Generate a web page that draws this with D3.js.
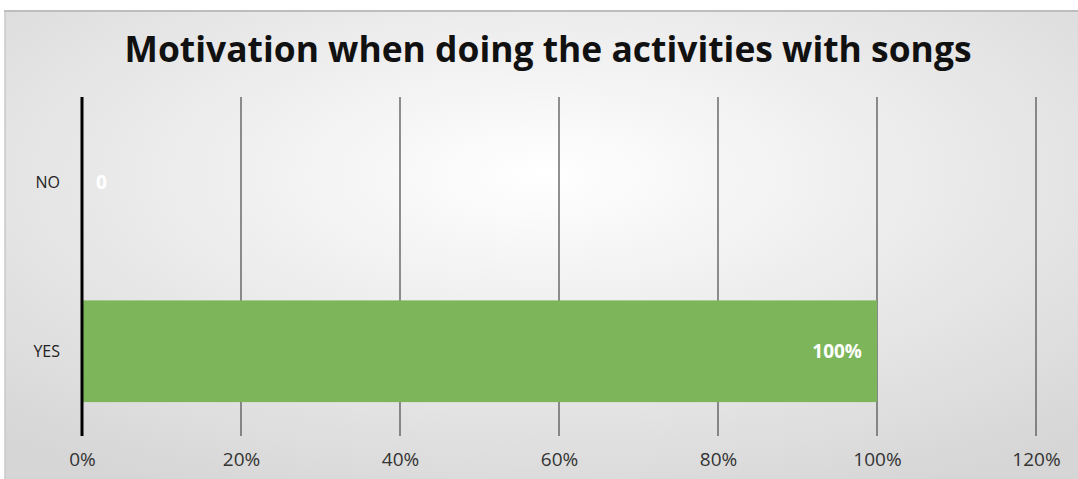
<!DOCTYPE html>
<html>
<head>
<meta charset="utf-8">
<script src="https://cdn.jsdelivr.net/npm/d3@7/dist/d3.min.js"></script>
<style>
  html, body { margin: 0; padding: 0; background: #ffffff; }
  svg { display: block; }
</style>
</head>
<body>
<svg id="chart" width="1078" height="479"></svg>
<script>
// Survey answers and their shares
const categories = ["NO", "YES"];
const values = [0, 1.0];
const valueLabels = ["0", "100%"];
const tickValues = [0, 0.2, 0.4, 0.6, 0.8, 1.0, 1.2];
const tickLabels = ["0%", "20%", "40%", "60%", "80%", "100%", "120%"];
const titleText = "Motivation when doing the activities with songs";

const W = 1078, H = 479;
const svg = d3.select("#chart");
const fontFamily = "'Open Sans', 'DejaVu Sans', sans-serif";

// Chart-area background: soft radial gradient, white centre to light grey edges
const defs = svg.append("defs");
const grad = defs.append("radialGradient")
  .attr("id", "bgGrad")
  .attr("cx", "50%").attr("cy", "35%").attr("r", "75%");
grad.append("stop").attr("offset", "0%").attr("stop-color", "#ffffff");
grad.append("stop").attr("offset", "100%").attr("stop-color", "#d6d6d6");

svg.append("rect").attr("x", 0).attr("y", 0).attr("width", W).attr("height", H).attr("fill", "#ffffff");
svg.append("rect")
  .attr("x", 5).attr("y", 11).attr("width", W - 5).attr("height", H - 11)
  .attr("fill", "url(#bgGrad)");
// Frame edges (top and left)
svg.append("line").attr("x1", 4).attr("x2", W).attr("y1", 11).attr("y2", 11)
  .attr("stroke", "#bdbdbd").attr("stroke-width", 2);
svg.append("line").attr("x1", 5).attr("x2", 5).attr("y1", 11).attr("y2", H)
  .attr("stroke", "#c8c8c8").attr("stroke-width", 1.5);

const plot = { left: 82, right: 1036, top: 97, bottom: 436 };

const x = d3.scaleLinear().domain([0, 1.2]).range([plot.left, plot.right]);
const y = d3.scaleBand().domain(categories).range([plot.top, plot.bottom]).paddingInner(0.4).paddingOuter(0.2);

// Vertical gridlines
svg.append("g")
  .selectAll("line")
  .data(tickValues.slice(1))
  .join("line")
  .attr("x1", d => x(d)).attr("x2", d => x(d))
  .attr("y1", plot.top).attr("y2", plot.bottom)
  .attr("stroke", "#555555").attr("stroke-width", 1.3);

// Bars
svg.append("g")
  .selectAll("rect")
  .data(categories)
  .join("rect")
  .attr("x", x(0))
  .attr("y", d => y(d))
  .attr("width", (d, i) => x(values[i]) - x(0))
  .attr("height", y.bandwidth())
  .attr("fill", "#7db65a");

// Category axis line
svg.append("line")
  .attr("x1", x(0)).attr("x2", x(0))
  .attr("y1", plot.top).attr("y2", plot.bottom)
  .attr("stroke", "#000000").attr("stroke-width", 3);

// Category labels
svg.append("g")
  .selectAll("text")
  .data(categories)
  .join("text")
  .attr("x", 60)
  .attr("y", d => y(d) + y.bandwidth() / 2)
  .attr("text-anchor", "end")
  .attr("dominant-baseline", "central")
  .attr("font-family", fontFamily)
  .attr("font-size", 16)
  .attr("fill", "#222")
  .text(d => d);

// Value labels
svg.append("g")
  .selectAll("text")
  .data(categories)
  .join("text")
  .attr("x", (d, i) => values[i] > 0 ? x(values[i]) - 15 : x(0) + 14)
  .attr("y", d => y(d) + y.bandwidth() / 2)
  .attr("text-anchor", (d, i) => values[i] > 0 ? "end" : "start")
  .attr("dominant-baseline", "central")
  .attr("font-family", fontFamily)
  .attr("font-weight", "bold")
  .attr("font-size", 19)
  .attr("fill", "#ffffff")
  .text((d, i) => valueLabels[i]);

// Value axis tick labels
const xAxis = d3.axisBottom(x)
  .tickValues(tickValues)
  .tickFormat((d, i) => tickLabels[i])
  .tickSize(0)
  .tickPadding(0);
const gx = svg.append("g")
  .attr("transform", `translate(0, 452)`)
  .call(xAxis);
gx.select(".domain").remove();
gx.selectAll("text")
  .attr("font-family", fontFamily)
  .attr("font-size", 19)
  .attr("fill", "#333")
  .attr("dy", "0.71em");

// Title
svg.append("text")
  .attr("x", 548)
  .attr("y", 62)
  .attr("text-anchor", "middle")
  .attr("font-family", fontFamily)
  .attr("font-weight", "bold")
  .attr("font-size", 35)
  .attr("textLength", 847)
  .attr("lengthAdjust", "spacingAndGlyphs")
  .attr("fill", "#111")
  .text(titleText);
</script>
</body>
</html>
